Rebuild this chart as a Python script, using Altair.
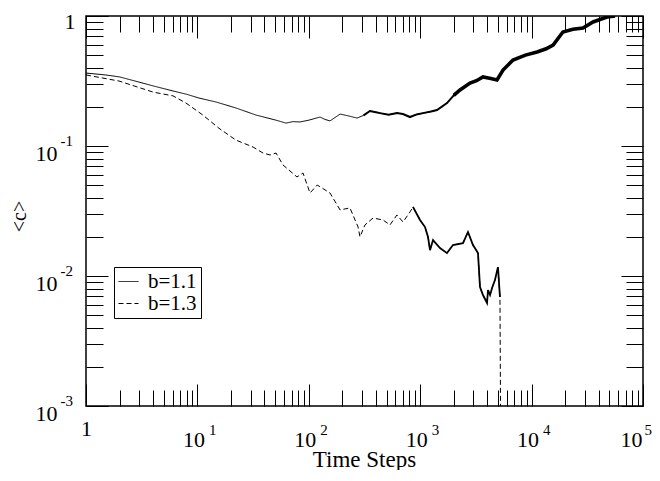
import altair as alt
import pandas as pd

FONT = "Liberation Serif"

# b = 1.1 (solid)
t_b11 = [1, 1.5, 2, 3, 4, 6.04, 8, 10.3, 14.7, 22.2, 33.6, 50.8, 62.4, 72, 83.4, 100, 126, 140, 155, 191, 230, 271,
         310, 354, 400, 436, 520, 619, 700, 810, 930, 1060, 1250, 1415, 1740, 2000, 2277, 2800, 3200, 3660, 4300,
         4890, 5540, 6810, 8800, 11200, 13500, 15600, 19100, 23500, 28900, 35600, 47500, 56100]
c_b11 = [0.364, 0.352, 0.340, 0.310, 0.290, 0.265, 0.250, 0.234, 0.218, 0.196, 0.173, 0.158, 0.150, 0.154, 0.153,
         0.158, 0.167, 0.160, 0.156, 0.176, 0.170, 0.164, 0.172, 0.186, 0.182, 0.179, 0.174, 0.179, 0.176, 0.167,
         0.175, 0.179, 0.184, 0.189, 0.214, 0.245, 0.270, 0.305, 0.318, 0.340, 0.330, 0.322, 0.384, 0.459, 0.500,
         0.529, 0.560, 0.598, 0.753, 0.790, 0.809, 0.899, 0.982, 1.0]

# b = 1.3 (dashed)
t_b13 = [1, 1.98, 3.99, 6.04, 7.9, 11.2, 15.6, 22.2, 31.6, 38.8, 44.9, 50.8, 58.7, 78.3, 88.7, 102.5, 119, 155, 191,
         234, 277, 288, 319, 377, 463, 535, 619, 701, 810, 861, 996, 1105, 1175, 1225, 1303, 1506, 1740, 1968, 2421,
         2685, 2978, 3302, 3443, 3660, 3980, 4063, 4236, 4415, 4690, 4990, 5200, 5310]
c_b13 = [0.352, 0.316, 0.260, 0.243, 0.214, 0.173, 0.137, 0.111, 0.0982, 0.0883, 0.0853, 0.0883, 0.0714, 0.0578,
         0.0620, 0.0435, 0.0501, 0.0435, 0.0322, 0.0334, 0.0238, 0.0200, 0.0247, 0.0279, 0.0270, 0.0247, 0.0295,
         0.0260, 0.0311, 0.0340, 0.0270, 0.0238, 0.0200, 0.0158, 0.0189, 0.0164, 0.0150, 0.0173, 0.0179, 0.0218,
         0.0173, 0.0150, 0.00822, 0.00714, 0.00620, 0.00780, 0.00714, 0.00809, 0.00931, 0.0117, 0.00690, 0.0002]

X_MAJOR = [1, 10, 100, 1000, 10000, 100000]
X_DECADES = [10, 100, 1000, 10000]
X_LAST = [100000]
X_MINOR = [m * 10 ** k for k in range(0, 5) for m in range(2, 10)]
Y_MAJOR = [0.001, 0.01, 0.1, 1]
Y_DECADES = [0.001, 0.01, 0.1]
Y_MINOR = [m * 10.0 ** k for k in range(-3, 0) for m in range(2, 10)]

df = pd.concat([
    pd.DataFrame({"t": t_b11, "c": c_b11, "series": "b=1.1"}),
    pd.DataFrame({"t": t_b13, "c": c_b13, "series": "b=1.3"}),
], ignore_index=True)

xs = alt.Scale(type="log", domain=[1, 100000], nice=False)
ys = alt.Scale(type="log", domain=[0.001, 1], nice=False)

LAB = 22   # base label size
EXP = 15   # exponent size
EXP_EXPR = "'' + round(log(datum.value)/LN10)"

common = dict(ticks=False, tickSize=0, domain=False, grid=False, labelFont=FONT,
              labelColor="black", labelFlush=False, labelOverlap=False)


def x_base(values, offset):
    return alt.Axis(orient="bottom", values=values, labelExpr="'10'", labelFontSize=LAB,
                    labelBaseline="alphabetic", labelAlign="center", labelPadding=40,
                    labelOffset=offset, title="", **common)


def x_exp(values, offset):
    return alt.Axis(orient="bottom", values=values, labelExpr=EXP_EXPR, labelFontSize=EXP,
                    labelBaseline="alphabetic", labelAlign="left", labelPadding=28,
                    labelOffset=offset, title="", **common)


y_base = alt.Axis(orient="left", values=Y_DECADES, labelExpr="'10'", labelFontSize=LAB,
                  labelBaseline="alphabetic", labelAlign="right", labelPadding=29, labelOffset=14,
                  title="", **common)
y_exp = alt.Axis(orient="left", values=Y_DECADES, labelExpr=EXP_EXPR, labelFontSize=EXP,
                 labelBaseline="alphabetic", labelAlign="left", labelPadding=26, labelOffset=-1,
                 title="", **common)
# the "1" labels and the axis titles
x_one = alt.Axis(orient="bottom", values=[1], labelExpr="'1'", labelFontSize=LAB,
                 labelBaseline="alphabetic", labelAlign="center", labelPadding=29, labelOffset=0,
                 title="Time Steps", titleFont=FONT, titleFontSize=23, titleFontWeight="normal",
                 titleColor="black", titleX=278, titleY=60, titleAlign="center",
                 titleBaseline="alphabetic", **common)
y_one = alt.Axis(orient="left", values=[1], labelExpr="'1'", labelFontSize=LAB,
                 labelBaseline="alphabetic", labelAlign="right", labelPadding=11, labelOffset=12,
                 title="<c>", titleFont=FONT, titleFontSize=20, titleFontWeight="normal",
                 titleColor="black", titleX=-67, titleY=200, titleAlign="center",
                 titleBaseline="middle", titleAngle=270, **common)


def tick_axis(orient, values, size):
    return alt.Axis(orient=orient, values=values, labels=False, domain=False, grid=False,
                    ticks=True, tickSize=size, tickColor="black", tickWidth=1,
                    offset=-size, title="")


def axis_layer(xax, yax):
    return alt.Chart(df).mark_point(opacity=0).encode(
        x=alt.X("t:Q", scale=xs, axis=xax),
        y=alt.Y("c:Q", scale=ys, axis=yax),
    )


layers = [
    axis_layer(x_base(X_DECADES, -4), y_base),
    axis_layer(x_exp(X_DECADES, 11), y_exp),
    axis_layer(x_base(X_LAST, -12), None),
    axis_layer(x_exp(X_LAST, 1), None),
    axis_layer(x_one, y_one),
    axis_layer(tick_axis("bottom", X_MAJOR, 22), tick_axis("left", Y_MAJOR, 22)),
    axis_layer(tick_axis("bottom", X_MINOR, 16), tick_axis("left", Y_MINOR, 17)),
    axis_layer(tick_axis("top", X_MAJOR, 22), tick_axis("right", Y_MAJOR, 22)),
    axis_layer(tick_axis("top", X_MINOR, 16), tick_axis("right", Y_MINOR, 17)),
]

lines = alt.Chart(df).mark_line(color="black", strokeWidth=1, clip=True).encode(
    x=alt.X("t:Q", scale=xs, axis=None),
    y=alt.Y("c:Q", scale=ys, axis=None),
    strokeDash=alt.StrokeDash(
        "series:N",
        scale=alt.Scale(domain=["b=1.1", "b=1.3"], range=[[1, 0], [5, 3]]),
        legend=alt.Legend(title=None, orient="none", legendX=28, legendY=251,
                          symbolType="stroke", symbolSize=400, symbolStrokeWidth=1,
                          symbolStrokeColor="black", labelFont=FONT, labelFontSize=21,
                          labelColor="black", strokeColor="black", fillColor="white",
                          padding=4, rowPadding=0, labelOffset=9, cornerRadius=0),
    ),
)

thick_mid = alt.Chart(df).transform_filter(
    "datum.series == 'b=1.1' && datum.t >= 300"
).mark_line(color="black", strokeWidth=2, clip=True).encode(
    x=alt.X("t:Q", scale=xs, axis=None), y=alt.Y("c:Q", scale=ys, axis=None))

thick_late = alt.Chart(df).transform_filter(
    "datum.series == 'b=1.1' && datum.t >= 2000"
).mark_line(color="black", strokeWidth=3.6, clip=True).encode(
    x=alt.X("t:Q", scale=xs, axis=None), y=alt.Y("c:Q", scale=ys, axis=None))

dense_dash = alt.Chart(df).transform_filter(
    "datum.series == 'b=1.3' && datum.t >= 850 && datum.t <= 5200"
).mark_line(color="black", strokeWidth=1.8, clip=True).encode(
    x=alt.X("t:Q", scale=xs, axis=None), y=alt.Y("c:Q", scale=ys, axis=None))

chart = alt.layer(*layers, lines, thick_mid, thick_late, dense_dash).resolve_axis(
    x="independent", y="independent"
).properties(
    width=557, height=390,
    autosize=alt.AutoSizeParams(type="none"),
    padding={"left": 78, "top": 8, "right": 9, "bottom": 64},
    background="white",
).configure_view(stroke="black", strokeWidth=1.5)

chart.save("out.html", embed_options={"renderer": "svg", "actions": False})
